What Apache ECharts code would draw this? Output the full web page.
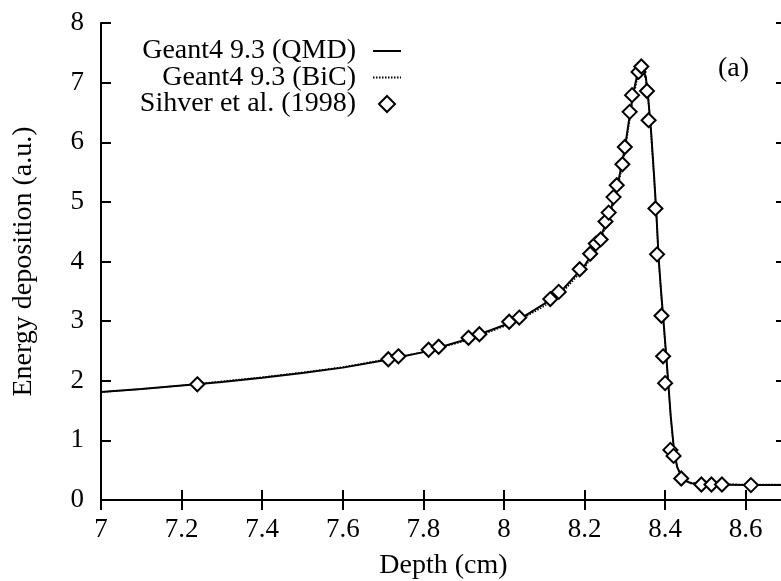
<!DOCTYPE html>
<html>
<head>
<meta charset="utf-8">
<script src="https://cdn.jsdelivr.net/npm/echarts@6/dist/echarts.min.js"></script>
<style>
  html, body { margin: 0; padding: 0; background: #fff; }
  #chart { width: 781px; height: 581px; }
</style>
</head>
<body>
<div id="chart"></div>
<script>
// Depth (cm) ticks and energy-deposition ticks
const xTicks = [7, 7.2, 7.4, 7.6, 7.8, 8, 8.2, 8.4, 8.6];
const yTicks = [0, 1, 2, 3, 4, 5, 6, 7, 8];

// Geant4 9.3 QMD simulation: [depth, energy deposition]
const qmdCurve = [
  [7.00, 1.81], [7.10, 1.86], [7.20, 1.92], [7.30, 1.98], [7.40, 2.05],
  [7.50, 2.13], [7.60, 2.22], [7.70, 2.34], [7.80, 2.48], [7.90, 2.68],
  [8.00, 2.93], [8.05, 3.08], [8.10, 3.29], [8.15, 3.56], [8.20, 3.93],
  [8.23, 4.25], [8.26, 4.75], [8.28, 5.22], [8.29, 5.55], [8.30, 5.90],
  [8.31, 6.35], [8.32, 6.80], [8.33, 7.10], [8.34, 7.22], [8.345, 7.22],
  [8.352, 7.10], [8.358, 6.75], [8.365, 6.20], [8.372, 5.50], [8.378, 4.85],
  [8.384, 4.05], [8.390, 3.50], [8.396, 3.00], [8.403, 2.40], [8.408, 1.95],
  [8.414, 1.40], [8.422, 0.84], [8.430, 0.55], [8.440, 0.40], [8.450, 0.32],
  [8.465, 0.28], [8.50, 0.26], [8.60, 0.25], [8.70, 0.25]
];

// Geant4 9.3 BiC simulation
const bicCurve = [
  [7.00, 1.81], [7.10, 1.86], [7.20, 1.92], [7.30, 1.99], [7.40, 2.06],
  [7.50, 2.14], [7.60, 2.23], [7.70, 2.35], [7.80, 2.48], [7.90, 2.66],
  [8.00, 2.91], [8.05, 3.06], [8.10, 3.25], [8.15, 3.52], [8.20, 3.89],
  [8.23, 4.21], [8.26, 4.70], [8.28, 5.16], [8.29, 5.48], [8.30, 5.84],
  [8.31, 6.28], [8.32, 6.72], [8.33, 7.04], [8.34, 7.18], [8.345, 7.18],
  [8.352, 7.05], [8.358, 6.70], [8.365, 6.15], [8.372, 5.45], [8.378, 4.80],
  [8.384, 4.02], [8.390, 3.46], [8.396, 2.96], [8.403, 2.37], [8.408, 1.92],
  [8.414, 1.38], [8.422, 0.83], [8.430, 0.55], [8.440, 0.40], [8.450, 0.33],
  [8.465, 0.29], [8.50, 0.27], [8.60, 0.26], [8.70, 0.26]
];

// Sihver et al. (1998) measurements
const sihverData = [
  [7.239, 1.94], [7.713, 2.36], [7.738, 2.41], [7.813, 2.52], [7.838, 2.57],
  [7.912, 2.72], [7.939, 2.78], [8.013, 2.99], [8.038, 3.06], [8.115, 3.37],
  [8.136, 3.49], [8.188, 3.87], [8.214, 4.13], [8.228, 4.30], [8.240, 4.37],
  [8.252, 4.67], [8.260, 4.82], [8.272, 5.08], [8.280, 5.28], [8.294, 5.63],
  [8.300, 5.92], [8.312, 6.51], [8.318, 6.79], [8.334, 7.18], [8.341, 7.27],
  [8.355, 6.86], [8.359, 6.37], [8.376, 4.89], [8.380, 4.12], [8.391, 3.09],
  [8.395, 2.41], [8.400, 1.96], [8.413, 0.84], [8.421, 0.74], [8.440, 0.36],
  [8.490, 0.26], [8.515, 0.26], [8.541, 0.26], [8.613, 0.25]
];

const seriesNames = ['Geant4 9.3 (QMD)', 'Geant4 9.3 (BiC)', 'Sihver et al. (1998)'];
const panelLabel = '(a)';

const FONT = 'Liberation Serif';
const xMin = xTicks[0], xMax = 8.7, xStep = xTicks[1] - xTicks[0];
const yMin = yTicks[0], yMax = yTicks[yTicks.length - 1], yStep = yTicks[1] - yTicks[0];

const fmtX = v => String(Math.round(v * 10) / 10);

const axisLineStyle = { color: '#000', width: 2 };
const tickStyle = { show: true, inside: true, length: 10, lineStyle: { color: '#000', width: 2 } };

// line entries in the key show only the line sample, no point symbol
const hiddenSymbol = { color: 'rgba(0,0,0,0)', borderWidth: 0, opacity: 0 };

const chart = echarts.init(document.getElementById('chart'), null, { renderer: 'canvas' });

chart.setOption({
  animation: false,
  backgroundColor: '#fff',
  textStyle: { fontFamily: FONT, color: '#000' },
  grid: { left: 101, top: 23, bottom: 81, right: -5, containLabel: false, outerBoundsMode: 'none' },
  legend: {
    orient: 'vertical',
    align: 'right',
    right: 374,
    top: 32,
    itemWidth: 28,
    itemHeight: 16,
    itemGap: -1.5,
    symbolKeepAspect: true,
    data: [
      { name: seriesNames[0], itemStyle: hiddenSymbol },
      { name: seriesNames[1], itemStyle: hiddenSymbol },
      { name: seriesNames[2], icon: 'path://M7,0L14,7L7,14L0,7Z' }
    ],
    textStyle: { fontFamily: FONT, fontSize: 28, color: '#000', lineHeight: 26, padding: [0, 12, 0, 0] }
  },
  graphic: [{
    type: 'text',
    left: 718,
    top: 55,
    style: { text: panelLabel, font: '28px "Liberation Serif"', fill: '#000' }
  }],
  xAxis: [{
    type: 'value',
    min: xMin, max: xMax, interval: xStep,
    name: 'Depth (cm)',
    nameLocation: 'middle',
    nameGap: 52,
    nameTextStyle: { fontFamily: FONT, fontSize: 28, color: '#000' },
    axisLine: { show: true, lineStyle: axisLineStyle },
    axisTick: tickStyle,
    splitLine: { show: false },
    axisLabel: { fontFamily: FONT, fontSize: 27, color: '#000', margin: 16, showMaxLabel: false, formatter: fmtX }
  }, {
    type: 'value',
    position: 'top',
    min: xMin, max: xMax, interval: xStep,
    axisLine: { show: true, lineStyle: axisLineStyle },
    axisTick: tickStyle,
    splitLine: { show: false },
    axisLabel: { show: false }
  }],
  yAxis: [{
    type: 'value',
    min: yMin, max: yMax, interval: yStep,
    name: 'Energy deposition (a.u.)',
    nameLocation: 'middle',
    nameGap: 63,
    nameRotate: 90,
    nameTextStyle: { fontFamily: FONT, fontSize: 28, color: '#000' },
    axisLine: { show: true, lineStyle: axisLineStyle },
    axisTick: tickStyle,
    splitLine: { show: false },
    axisLabel: { fontFamily: FONT, fontSize: 27, color: '#000', margin: 17 }
  }, {
    type: 'value',
    position: 'right',
    min: yMin, max: yMax, interval: yStep,
    axisLine: { show: true, lineStyle: axisLineStyle },
    axisTick: tickStyle,
    splitLine: { show: false },
    axisLabel: { show: false }
  }],
  series: [{
    name: seriesNames[0],
    type: 'line',
    data: qmdCurve,
    showSymbol: false,
    symbol: 'none',
    lineStyle: { color: '#000', width: 2, type: 'solid' },
    itemStyle: { color: '#000' },
    z: 3
  }, {
    name: seriesNames[1],
    type: 'line',
    data: bicCurve,
    showSymbol: false,
    symbol: 'none',
    lineStyle: { color: '#000', width: 1.5, type: [1.5, 1.5] },
    itemStyle: { color: '#000' },
    z: 2
  }, {
    name: seriesNames[2],
    type: 'scatter',
    data: sihverData,
    symbol: 'diamond',
    symbolSize: 14,
    symbolKeepAspect: true,
    itemStyle: { color: '#fff', borderColor: '#000', borderWidth: 2, opacity: 1 },
    z: 5
  }]
});
</script>
</body>
</html>
